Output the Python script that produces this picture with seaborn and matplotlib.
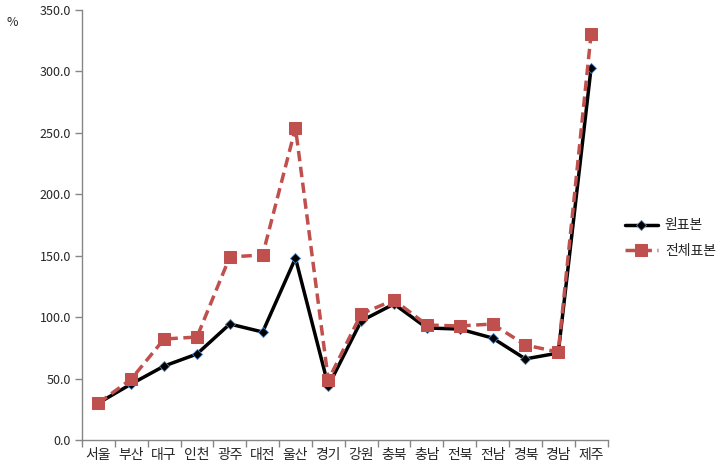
import matplotlib
matplotlib.use("Agg")
import matplotlib.pyplot as plt
import seaborn as sns
import pandas as pd
import numpy as np
from matplotlib.ticker import FixedLocator

regions = ["서울", "부산", "대구", "인천", "광주", "대전", "울산", "경기",
           "강원", "충북", "충남", "전북", "전남", "경북", "경남", "제주"]
original = [30.1, 45.6, 60.2, 70.0, 94.4, 87.9, 148.0, 44.0,
            96.9, 110.7, 91.2, 90.3, 83.0, 66.0, 70.8, 302.8]
full = [30.0, 49.6, 82.2, 83.8, 149.0, 150.6, 254.0, 48.8,
        102.6, 114.0, 93.6, 92.8, 94.4, 77.3, 71.6, 330.4]
series_names = ["원표본", "전체표본"]
yticks = [0, 50, 100, 150, 200, 250, 300, 350]

sns.set_style("white")
plt.rcParams['font.family'] = ['Noto Sans CJK KR', 'DejaVu Sans']

pos = np.arange(len(regions))
df = pd.DataFrame({
    "x": np.concatenate([pos, pos]),
    "y": original + full,
    "series": [series_names[0]] * len(regions) + [series_names[1]] * len(regions),
})

fig = plt.figure(figsize=(7.23, 4.74), dpi=100)
ax = fig.add_axes([82 / 723, 34 / 474, (607.5 - 82) / 723, 430 / 474])

sns.lineplot(data=df[df.series == series_names[0]], x="x", y="y", ax=ax,
             color="black", linewidth=2.5, marker="D", markersize=5,
             markeredgecolor="#4F81BD", markeredgewidth=0.6,
             label=series_names[0])
sns.lineplot(data=df[df.series == series_names[1]], x="x", y="y", ax=ax,
             color="#C0504D", linewidth=2.5, linestyle=(0, (3, 1.6)),
             marker="s", markersize=9, markeredgecolor="#C0504D",
             label=series_names[1])

ax.set_xlim(-0.5, len(regions) - 0.5)
ax.set_ylim(0, 350)
ax.set_yticks(yticks)
ax.set_yticklabels([f"{v:.1f}" for v in yticks], fontsize=9)
ax.set_xticks(pos)
ax.set_xticklabels(regions, fontsize=10)
ax.xaxis.set_minor_locator(FixedLocator(np.arange(-0.5, len(regions), 1.0)))
ax.tick_params(axis="x", which="major", bottom=True, length=0, pad=6)
ax.tick_params(axis="x", which="minor", bottom=True, length=5, width=1,
               color="#868686", direction="out")
ax.tick_params(axis="y", which="major", left=True, length=5, width=1,
               color="#868686", direction="out", pad=3)
ax.set_xlabel("")
ax.set_ylabel("")

for s in ["top", "right"]:
    ax.spines[s].set_visible(False)
for s in ["left", "bottom"]:
    ax.spines[s].set_color("#868686")
    ax.spines[s].set_linewidth(1)

fig.text(12 / 723, 1 - 22 / 474, "%", fontsize=9, va="center", ha="center")

leg = ax.legend(loc="center left", bbox_to_anchor=(612 / 723, 1 - 238 / 474),
                bbox_transform=fig.transFigure, frameon=False, fontsize=10,
                handlelength=2.4, labelspacing=0.8, handletextpad=0.5)

fig.savefig("out.png", dpi=100)
